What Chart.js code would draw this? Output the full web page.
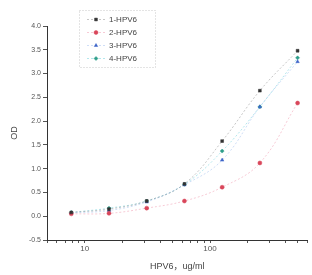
<!DOCTYPE html>
<html>
<head>
<meta charset="utf-8">
<script src="https://cdn.jsdelivr.net/npm/chart.js@4/dist/chart.umd.min.js"></script>
<style>
    html, body { margin: 0; padding: 0; background: #fff; }
    #wrap { width: 312px; height: 275px; }
</style>
</head>
<body>
<div id="wrap"><canvas id="od-chart" width="312" height="275"></canvas></div>
<script>
    "use strict";

    // Data
    var concentrations = [7.8125, 15.625, 31.25, 62.5, 125, 250, 500];
    var seriesNames = ["1-HPV6", "2-HPV6", "3-HPV6", "4-HPV6"];
    var od1 = [0.08, 0.15, 0.32, 0.68, 1.58, 2.64, 3.48];
    var od2 = [0.05, 0.06, 0.17, 0.32, 0.61, 1.12, 2.38];
    var od3 = [0.07, 0.12, 0.30, 0.66, 1.18, 2.30, 3.25];
    var od4 = [0.08, 0.17, 0.32, 0.67, 1.37, 2.30, 3.33];
    var xTicks = [5, 6, 7, 8, 9, 10, 20, 30, 40, 50, 60, 70, 80, 90, 100, 200, 300, 400, 500, 600];
    var xLabels = [10, 100];

    var fontFamily = "'Liberation Sans', Arial, 'Noto Sans CJK SC', sans-serif";

    function pairs(values) {
        return concentrations.map(function (c, i) { return {x: c, y: values[i]}; });
    }

    function series(label, values, color, lineColor, style) {
        return {
            label: label,
            data: pairs(values),
            borderColor: lineColor,
            backgroundColor: color,
            pointBorderColor: color,
            pointBackgroundColor: color,
            pointStyle: style,
            pointRadius: 2,
            pointBorderWidth: 0.5,
            borderWidth: 1,
            borderDash: [2, 2],
            tension: 0.4,
            fill: false
        };
    }

    // Legend drawn inside the plot, boxed like the original
    var insideLegend = {
        id: "insideLegend",
        afterDraw: function (chart) {
            var ctx = chart.ctx;
            var x0 = 79, y0 = 10, w = 76, rowH = 13;
            ctx.save();
            ctx.strokeStyle = "#c8c8c8";
            ctx.lineWidth = 1;
            ctx.setLineDash([1, 2]);
            ctx.strokeRect(x0 + 0.5, y0 + 0.5, w, rowH * 4 + 5);
            chart.data.datasets.forEach(function (ds, i) {
                var cy = y0 + 9 + i * rowH;
                ctx.setLineDash([2, 2]);
                ctx.strokeStyle = ds.borderColor;
                ctx.beginPath();
                ctx.moveTo(x0 + 8, cy + 0.5);
                ctx.lineTo(x0 + 26, cy + 0.5);
                ctx.stroke();
                ctx.setLineDash([]);
                ctx.fillStyle = ds.pointBackgroundColor;
                ctx.strokeStyle = ds.pointBorderColor;
                ctx.lineWidth = 0.5;
                Chart.helpers.drawPoint(ctx, {pointStyle: ds.pointStyle, radius: 2, rotation: 0, borderWidth: 0.5}, x0 + 17, cy + 0.5);
                ctx.lineWidth = 1;
                ctx.font = "8px " + fontFamily;
                ctx.textBaseline = "middle";
                ctx.fillStyle = "#444";
                ctx.fillText(ds.label, x0 + 30, cy + 0.5);
            });
            ctx.restore();
        }
    };

    var ctx = document.getElementById("od-chart").getContext("2d");
    var myChart = new Chart(ctx, {
        type: "line",
        data: {
            datasets: [
                series(seriesNames[0], od1, "#333333", "rgba(130,130,130,0.45)", "rect"),
                series(seriesNames[1], od2, "#d9465a", "rgba(240,160,180,0.55)", "circle"),
                series(seriesNames[2], od3, "#3c64c8", "rgba(160,190,240,0.5)", "triangle"),
                series(seriesNames[3], od4, "#2e9e8a", "rgba(130,215,225,0.6)", "rectRot")
            ]
        },
        options: {
            responsive: false,
            animation: false,
            layout: { padding: { top: 26, right: 2, left: 0, bottom: 0 } },
            plugins: {
                legend: { display: false },
                tooltip: { enabled: false }
            },
            scales: {
                x: {
                    type: "logarithmic",
                    min: 5,
                    max: 600,
                    afterBuildTicks: function (axis) {
                        axis.ticks = xTicks.map(function (v) { return {value: v}; });
                    },
                    afterFit: function (axis) { axis.height = 35; },
                    ticks: {
                        autoSkip: false,
                        maxRotation: 0,
                        color: "#555",
                        font: { size: 8, family: fontFamily },
                        padding: 1,
                        callback: function (v) {
                            return xLabels.indexOf(v) >= 0 ? String(v) : "";
                        }
                    },
                    grid: { drawOnChartArea: false, tickLength: 3, color: "#555" },
                    border: { color: "#333", width: 1 },
                    title: {
                        display: true,
                        text: "HPV6，ug/ml",
                        color: "#444",
                        font: { size: 9, family: fontFamily },
                        padding: { top: 0, bottom: 3 }
                    }
                },
                y: {
                    min: -0.5,
                    max: 4.0,
                    afterFit: function (axis) { axis.width = 47; },
                    ticks: {
                        stepSize: 0.5,
                        color: "#555",
                        font: { size: 7, family: fontFamily },
                        padding: 2,
                        callback: function (v) { return v.toFixed(1); }
                    },
                    grid: { drawOnChartArea: false, tickLength: 4, color: "#555" },
                    border: { color: "#333", width: 1 },
                    title: {
                        display: true,
                        text: "OD",
                        color: "#444",
                        font: { size: 9, family: fontFamily },
                        padding: { top: 9, bottom: 0 }
                    }
                }
            }
        },
        plugins: [insideLegend]
    });
</script>
</body>
</html>
